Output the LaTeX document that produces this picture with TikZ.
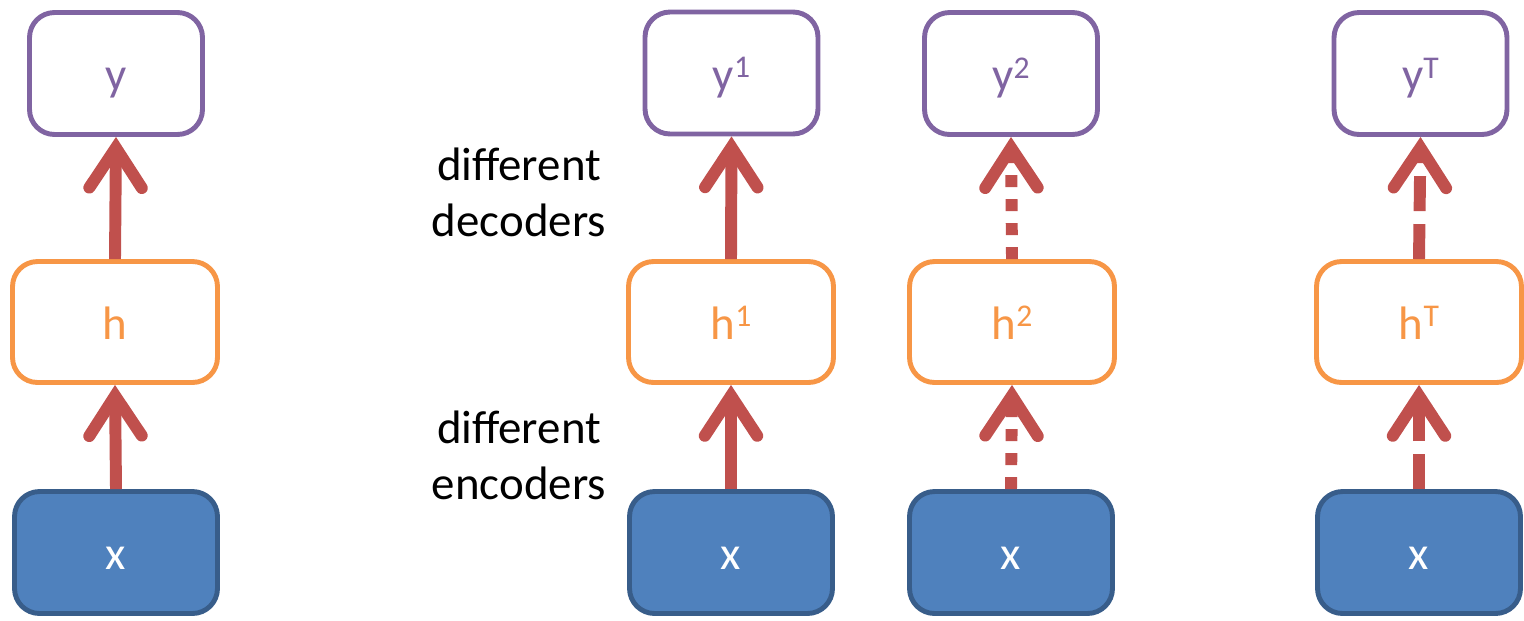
\documentclass[tikz,border=0pt]{standalone}
\usepackage{fontspec}
\setmainfont{Carlito}
\usetikzlibrary{arrows.meta}
\definecolor{ypurple}{HTML}{8064A2}
\definecolor{horange}{HTML}{F79646}
\definecolor{xblue}{HTML}{4F81BD}
\definecolor{xborder}{HTML}{385D8A}
\definecolor{arrred}{HTML}{C0504D}
\newcommand{\supx}[1]{\raisebox{0.55ex}{\fontsize{18}{18}\selectfont #1}}
\begin{document}
\begin{tikzpicture}[x=0.02cm,y=-0.02cm,
  every node/.style={font=\fontsize{26.7}{32}\selectfont},
  boxbase/.style={line width=2.8pt,rounded corners=0.5cm,text height=0.68cm,text depth=0cm,inner sep=0pt},
  ybox/.style={boxbase,draw=ypurple,minimum width=3.46cm,minimum height=2.44cm,text=ypurple,fill=white},
  hbox/.style={boxbase,draw=horange,minimum width=4.10cm,minimum height=2.42cm,text=horange,fill=white},
  xbox/.style={boxbase,draw=xborder,fill=xblue,minimum width=4.06cm,minimum height=2.44cm,text=white},
  arr/.style={draw=arrred,line width=6.8pt,-{Straight Barb[length=0.8cm,width=1.05cm,line cap=round,line join=miter]}},
  dotarr/.style={arr,dash pattern=on 0.24cm off 0.24cm},
  dasharr/.style={arr,dash pattern=on 0.7cm off 0.26cm},
  lbl/.style={align=center,text=black}]
\useasboundingbox (0,0) rectangle (1524,620);
% column 1
\node[ybox] (ya) at (116,73.5) {y};
\node[hbox] (ha) at (115,322) {h};
\node[xbox] (xa) at (116,552.5) {x};
\draw[arr] (xa.north) -- (ha.south);
\draw[arr] (ha.north) -- (ya.south);
% column 2
\node[ybox] (yb) at (731.5,73) {y\supx{1}};
\node[hbox] (hb) at (731,322) {h\supx{1}};
\node[xbox] (xb) at (731,552.5) {x};
\draw[arr] (xb.north) -- (hb.south);
\draw[arr] (hb.north) -- (yb.south);
% column 3
\node[ybox] (yc) at (1011,73.5) {y\supx{2}};
\node[hbox] (hc) at (1012,322) {h\supx{2}};
\node[xbox] (xc) at (1011,552.5) {x};
\draw[dotarr] (xc.north) -- (hc.south);
\draw[dotarr] (hc.north) -- (yc.south);
% column 4
\node[ybox] (yd) at (1420.5,73.5) {y\supx{T}};
\node[hbox] (hd) at (1419,322) {h\supx{T}};
\node[xbox] (xd) at (1419,552.5) {x};
\draw[dasharr] (xd.north) -- (hd.south);
\draw[dasharr] (hd.north) -- (yd.south);
% labels
\node[lbl] (dec) at (519,192) {different\\decoders};
\node[lbl] (enc) at (519,455) {different\\encoders};
\end{tikzpicture}
\end{document}
